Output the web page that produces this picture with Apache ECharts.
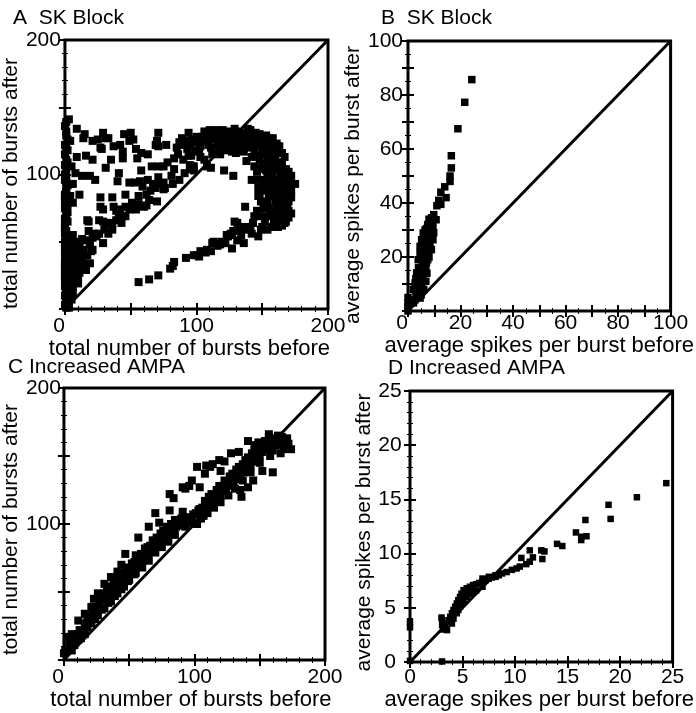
<!DOCTYPE html>
<html><head><meta charset="utf-8">
<script src="https://cdn.jsdelivr.net/npm/echarts@6/dist/echarts.min.js"></script>
<style>html,body{margin:0;padding:0;background:#fff}#c{width:696px;height:713px}</style>
</head><body><div id="c"></div>
<script>
const FONT = '"Liberation Sans", Arial, Helvetica, sans-serif';

// Panel titles and axis names
const titles = ['A  SK Block', 'B  SK Block', 'C Increased AMPA', 'D Increased AMPA'];
const xNames = ['total number of bursts before', 'average spikes per burst before', 'total number of bursts before', 'average spikes per burst before'];
const yNames = ['total number of bursts after', 'average spikes per burst after', 'total number of bursts after', 'average spikes per burst after'];

// Tick labels
const xLabelsA = [0, 100, 200];
const yLabelsA = [100, 200];
const xLabelsB = [0, 20, 40, 60, 80, 100];
const yLabelsB = [20, 40, 60, 80, 100];
const xLabelsC = [0, 100, 200];
const yLabelsC = [100, 200];
const xLabelsD = [0, 5, 10, 15, 20, 25];
const yLabelsD = [0, 5, 10, 15, 20, 25];

// Identity lines
const identityA = [[0, 0], [200, 200]];
const identityB = [[0, 0], [100, 100]];
const identityC = [[0, 0], [200, 200]];
const identityD = [[0, 0], [25, 25]];

// A: SK block, total number of bursts (before, after)
const pointsA = [
[3,141],[1,132],[9,134],[15,130],[14,127],[21,125],[29,131],[31,127],[33,127],[45,130],[50,131],[52,126],[71,131],[70,125],[89,127],[94,131],[97,126],[92,125],
[4,125],[25,126],[27,120],[28,119],[37,121],[42,122],[44,117],[49,125],[54,119],[58,116],[63,115],[69,122],[71,121],[77,122],[85,120],[87,124],[90,122],[95,122],[98,124],
[1,111],[9,113],[16,114],[21,111],[35,111],[44,112],[55,112],[66,106],[71,106],[75,106],[78,109],[83,112],[86,115],[90,111],[94,114],[98,106],[95,107],[83,104],
[1,104],[5,106],[8,101],[13,99],[19,99],[23,96],[31,105],[41,101],[40,95],[49,94],[53,94],[58,103],[57,95],[63,96],[67,93],[71,98],[75,94],[76,90],[81,99],[82,93],[87,96],[91,101],[95,104],[98,103],
[1,94],[6,93],[4,84],[11,85],[27,83],[36,83],[46,85],[56,84],[59,91],[62,85],[64,81],[65,88],[69,90],[70,93],[70,80],[75,89],
[1,76],[6,79],[18,65],[27,76],[29,74],[37,76],[39,73],[42,74],[44,69],[46,76],[49,74],[51,79],[52,76],[54,74],[56,78],[60,76],[62,77],
[1,69],[17,66],[26,66],[29,65],[31,64],[34,64],[36,63],[39,66],[41,68],[43,64],[46,69],
[1,54],[6,55],[18,58],[22,56],[26,56],[30,59],[33,56],[36,59],[21,53],[16,51],[24,54],[29,49],
[1,47],[5,44],[12,44],[19,48],[21,44],[15,40],[10,39],[17,40],[20,43],
[1,39],[3,33],[6,37],[10,32],[14,33],[16,29],[19,34],[11,27],[8,29],[4,24],
[1,19],[4,19],[8,22],[10,19],[1,12],[5,14],[1,7],[3,4],[1,1],
[0,60],[0,85],[0,100],[2,118],[0,122],[1,90],[0,80],[2,72],[0,50],[1,28],[2,44],[0,35],[1,15],[2,9],[0,25],
[0,3],[1,6],[0,10],[1,13],[0,17],[2,21],[0,23],[1,26],[0,30],[2,31],[0,33],[1,37],[0,41],[2,40],[0,45],[1,49],[2,52],[0,56],[1,58],[0,63],[2,65],[0,67],[1,72],[0,75],[2,78],[0,83],[1,87],[2,92],[0,96],[1,98],[0,107],[2,109],[0,115],[1,120],[2,126],[1,129],[0,136],[1,139],
[3,8],[4,11],[6,12],[3,15],[6,17],[7,20],[5,22],[8,25],[10,24],[3,27],[6,28],[9,31],[12,30],[4,30],[7,33],[12,35],[5,36],[9,38],[13,38],[3,40],[8,42],[14,44],[11,47],[4,48],[7,50],[13,52],[9,46],[3,20],[2,12],[5,7],[3,1],[2,3],
[56,20],[64,22],[71,25],[80,30],[82,32],[83,35],[92,38],[98,40],
[101,124],[102,117],[107,131],[108,126],[111,120],[114,130],[116,122],[118,131],[119,125],[122,129],[122,120],[124,131],[126,125],[127,117],[129,134],[129,129],[132,122],[133,126],[134,119],[136,130],[138,110],[139,131],[142,129],[143,124],[144,119],[146,114],[147,127],[149,125],[151,119],[152,115],[153,121],[154,111],[157,116],[159,117],[160,113],[163,106],[167,113],[164,104],[158,106],[97,106],[106,111],[108,106],[111,105],[121,103],[128,99],
[104,128],[110,133],[113,126],[117,127],[120,133],[125,128],[130,132],[135,126],[138,123],[141,133],[145,131],[148,122],[150,128],[152,124],[155,127],[158,122],[160,120],[162,117],[165,116],[163,121],[157,111],[155,106],[160,108],[165,109],[168,104],[166,100],[170,102],[172,99],
[100,128],[103,121],[105,125],[106,132],[109,122],[112,129],[115,133],[117,119],[120,126],[121,131],[123,123],[126,132],[128,121],[131,127],[133,131],[135,123],[137,127],[139,134],[140,120],[143,130],[146,122],[148,130],[150,116],[151,126],[153,129],[155,119],[156,124],[158,127],[161,123],[93,119],[96,114],[99,118],[103,113],[112,115],[118,115],[124,118],[130,116],[136,117],[142,113],[148,111],
[150,108],[153,103],[156,99],[158,95],[160,92],[161,86],[163,82],[164,79],[166,88],[165,95],[167,102],[168,90],[171,91],[170,80],[168,73],[166,70],[164,66],[161,76],[160,80],[157,86],[155,84],[153,88],[151,92],[149,96],[156,70],[158,73],[162,61],[165,62],[170,73],[172,88],[150,89],[146,102],[144,106],[148,104],
[142,96],[146,96],[147,90],[148,85],[149,80],[151,75],[147,84],[152,96],[154,99],[156,90],[157,94],[158,101],[159,84],[160,104],[162,96],[162,89],[163,91],[164,99],[165,84],[167,94],[168,80],[169,99],[170,96],[170,86],[169,76],[172,83],[175,93],[172,71],[170,68],[168,65],[167,64],[164,74],[163,69],[162,71],[159,68],[159,63],[157,61],[155,75],[154,79],[153,69],[152,65],[150,61],[149,59],[148,69],[146,73],[144,69],[143,64],[142,56],[141,61],[138,59],[137,76],[136,61],[134,55],[133,59],[132,61],[131,64],[129,65],[128,58],[127,55],[126,56],[124,54],[123,55],[122,49],[121,49],[119,50],[118,48],[116,47],[113,50],[112,49],[111,43],[108,44],[107,42],[103,43],[102,39],[101,40],[127,45],[131,51],[136,49],[147,54],[154,59],[159,65]
];

// B: SK block, average spikes per burst (before, after)
const pointsB = [
[24.3,85.7],[21.6,77.3],[19,67.5],[16.5,57.5],[16.5,53],[16,50],[16,48],[14,46],[12.5,44],[14.5,42],[11.7,41],[11,39],[12.5,39.5],[9.8,35.7],[10.7,33.8],[8.9,32.6],[9.5,31.4],
[8.5,30.1],[7.7,28.9],[8.9,27.6],[7,26.4],[8.3,25.2],[6.4,23.9],[7.7,22.7],[6,21.5],[7.3,20.2],[5.8,19],[7,17.8],[5.5,16.5],[6.4,15.3],[4.8,14.1],[5.8,12.8],[4.3,11.6],[5.2,10.4],[3.6,9.1],[4.6,7.9],[3.1,6.7],[4,5.4],[2.7,4.2],[4.6,4.8],[2.1,3],
[0,5],[0,1.7],[0,0],[0,3],
[4.6,23.9],[5.2,26.4],[5.8,28.9],[3.9,19],[4.6,21.5],[3.3,14.1],[2.7,10.4],[9.5,26.4],[8.9,22.7],[6.5,30],[7.5,32],[8,34],[6,25],[5,20],[4,16],[3,12],[2,8],[5.5,13],[6.5,18],[7.5,24],[4.5,9],[3.5,5],[5,6],[6,8],[6.8,11],[7.2,14],[8,20],[8.5,23],[9.8,29],
[7,30.5],[8,27],[6.5,21],[5.5,17.5],[4.5,13],[3.8,10],[3,7.5],[8.5,31],[9,34.5],[7.5,19],[6.8,16]
];

// C: increased AMPA, total number of bursts (before, after)
const pointsC = [
[0,5],[1,7],[4,11],[5,15],[7,13],[9,17],[10,19],[12,22],[14,19],[16,24],[17,27],[18,29],[21,32],[22,35],[23,37],[26,39],[27,43],[28,46],[31,49],[32,44],[33,51],[34,46],[36,54],[37,49],[38,56],[39,52],[41,59],[42,61],[43,55],[46,64],[47,60],[48,65],[49,68],[50,64],[52,71],[53,67],[54,72],[55,68],[57,75],[58,71],[59,78],[60,73],[62,82],[63,77],[64,83],[65,79],[66,84],[68,88],[69,82],[70,87],[71,90],[73,86],[74,93],[75,89],[76,95],[78,92],[79,98],[80,93],[81,97],[82,100],[84,95],[85,103],[86,98],[87,101],[89,99],[90,104],[91,100],[92,103],[95,105],[96,101],[97,104],[93,98],
[85,92],[80,87],[75,83],[70,79],[65,73],[60,68],[55,64],[50,59],[46,54],[41,49],[36,43],[31,38],[26,33],[21,27],[16,19],[11,15],[6,7],
[23,45],[26,49],[31,56],[36,61],[41,65],[21,39],[16,34],[11,29],[6,19],[3,17],
[81,122],[84,119],[91,127],[93,126],[98,132],[70,108],[81,110],[65,98],[57,90],[47,78],[44,70],[55,77],[59,73],[91,109],[73,101],
[98,103],[101,108],[102,100],[103,110],[106,112],[107,106],[108,117],[109,110],[111,120],[112,114],[113,122],[114,115],[116,117],[117,125],[118,120],[119,128],[120,121],[122,126],[123,132],[124,124],[125,128],[127,135],[128,130],[129,137],[130,131],[132,140],[133,133],[134,142],[135,136],[137,144],[138,138],[139,147],[140,141],[141,149],[143,143],[144,152],[145,146],[146,154],[148,148],[149,157],[150,150],[151,159],[152,153],[154,161],[155,155],[156,158],[157,164],[159,160],[160,154],[161,163],[162,158],[164,165],[165,161],[166,159],[167,164],[168,155],[170,161],[172,159],[174,155],[160,138],[152,139],[145,132],[136,120],[141,127],[135,125],
[102,142],[109,143],[112,142],[119,147],[120,139],[128,152],[134,153],[141,161],[146,158],[149,160],[154,159],[157,166],[96,128],[104,127],[108,137],[114,144],[123,146],
[8,11],[13,16],[18,24],[24,30],[29,37],[34,42],[39,47],[44,52],[49,58],[54,63],[59,69],[64,75],[69,80],[74,86],[79,91],[84,97],[89,102],[94,103],[99,107],[104,111],[109,115],[114,119],[119,124],[124,127],[129,133],[134,138],[139,143],[144,148],[149,152],[154,157],[159,158],[163,160],[168,160],[171,163],[166,152],[158,150],[150,145],[143,138],[137,132],[131,126],[126,121],[120,116],[115,112],[110,108],[105,104],[100,101]
];

// D: increased AMPA, average spikes per burst (before, after)
const pointsD = [
[24.4,16.5],[21.6,15.2],[18.9,14.5],[19.1,13.2],[16.7,13.1],[15.8,11.95],[16.3,11.55],[16.8,11.6],[16.3,11.25],[14,10.9],[14.5,10.7],[11.4,10.3],[12.5,10.3],[12.8,10.2],[12.6,9.5],[10.6,9.6],[11.7,9.65],[11.4,9.25],[11.07,9.03],[10.45,8.8],[10.15,8.63],[9.7,8.5],[9.2,8.3],[8.76,8.17],[8.45,8.0],[8.14,7.86],[7.8,7.8],[7.5,7.68],[7.2,7.55],[6.9,7.4],[6.6,7.3],[6.3,7.18],[6.0,7.1],[5.7,6.94],[5.4,6.8],[5.1,6.63],[4.9,6.3],[4.76,6.0],[4.6,5.7],[4.45,5.4],[4.3,5.1],[4.14,4.8],[3.99,4.5],[3.83,4.17],[3.68,3.86],[3.37,3.55],[3.06,3.4],[3.06,3.86],[3.37,3.1],[3.52,2.94],[3.15,3.0],[3.0,4.1],
[5.7,6.3],[6.3,6.6],[5.1,5.7],[4.6,4.8],[4.14,4.0],[6.9,6.94],[6.0,6.5],[5.4,6.0],[4.9,5.4],[4.45,4.5],[3.99,3.55],[5.5,6.5],[5.2,6.3],[4.76,5.1],[6.9,7.7],[7.5,7.86],[8.14,8.0],
[0,3.2],[0,3.7],[0,0.1],[3.05,0.05]
];

const grids = [
  {left: 60, top: 40, width: 268, height: 269},
  {left: 408, top: 41, width: 270, height: 270},
  {left: 55, top: 388, width: 270, height: 272},
  {left: 410, top: 391, width: 271, height: 271}
];

const panels = [
  {x: [0, 200, 50, xLabelsA], y: [0, 200, 50, yLabelsA], minor: 5, pts: pointsA, id: identityA, sym: 8,
   xl: {margin: 7, alignMin: 'right'}, yl: {margin: 4, pad: [14, 0, 0, 0], align: 'right'}, xn: {gap: 19, pad: [0, 14, 0, 0]}, yn: {gap: 33, pad: [0, 18, 0, 0]}},
  {x: [0, 100, 10, xLabelsB], y: [0, 100, 10, yLabelsB], minor: 2, pts: pointsB, id: identityB, sym: 7.5,
   xl: {margin: 2, alignMin: 'right'}, yl: {margin: 5, pad: [0, 0, 0, 0], align: 'right'}, xn: {gap: 15, pad: [0, 0, 0, 0]}, yn: {gap: 31, pad: [0, 18, 0, 0]}},
  {x: [0, 200, 50, xLabelsC], y: [0, 200, 50, yLabelsC], minor: 5, pts: pointsC, id: identityC, sym: 8,
   xl: {margin: 7, alignMin: 'right'}, yl: {margin: 3, pad: [6, 0, 0, 0], align: 'right'}, xn: {gap: 23, pad: [0, 7, 0, 0]}, yn: {gap: 29, pad: [0, 11, 0, 0]}},
  {x: [0, 25, 5, xLabelsD], y: [0, 25, 5, yLabelsD], minor: 5, pts: pointsD, id: identityD, sym: 6.5,
   xl: {margin: 5, alignMin: null}, yl: {margin: 20, pad: [0, 0, 0, 0], align: 'center'}, xn: {gap: 21, pad: [0, 4, 0, 0]}, yn: {gap: 30, pad: [0, 12, 0, 0]}}
];

const titlePos = [{left: 13, top: 8}, {left: 381, top: 8}, {left: 8, top: 357}, {left: 388, top: 358}];

const tick = {show: true, inside: true, length: 6, lineStyle: {color: '#000', width: 2}};
const txt = {color: '#000', fontSize: 21, fontFamily: FONT};
const nameTxt = {color: '#000', fontSize: 22, fontFamily: FONT};

const xAxis = [], yAxis = [], series = [], title = [];
panels.forEach((p, i) => {
  const minor = {show: true, splitNumber: p.minor, length: 3, lineStyle: {color: '#000', width: 1}};
  const [xmin, xmax, xint, xlab] = p.x;
  const [ymin, ymax, yint, ylab] = p.y;
  xAxis.push({
    type: 'value', gridIndex: i, position: 'bottom', min: xmin, max: xmax, interval: xint,
    axisLine: {show: false}, axisTick: tick, minorTick: minor, splitLine: {show: false},
    axisLabel: Object.assign({margin: p.xl.margin, formatter: v => xlab.includes(v) ? String(v) : ''}, txt,
      p.xl.alignMin ? {alignMinLabel: p.xl.alignMin} : {}),
    name: xNames[i], nameLocation: 'middle', nameGap: p.xn.gap,
    nameTextStyle: Object.assign({padding: p.xn.pad}, nameTxt)
  });
  xAxis.push({
    type: 'value', gridIndex: i, position: 'top', min: xmin, max: xmax, interval: xint,
    axisLine: {show: false}, axisTick: tick, minorTick: minor, splitLine: {show: false}, axisLabel: {show: false}
  });
  yAxis.push({
    type: 'value', gridIndex: i, position: 'left', min: ymin, max: ymax, interval: yint,
    axisLine: {show: false}, axisTick: tick, minorTick: minor, splitLine: {show: false},
    axisLabel: Object.assign({margin: p.yl.margin, align: p.yl.align, padding: p.yl.pad,
      formatter: v => ylab.includes(v) ? String(v) : ''}, txt),
    name: yNames[i], nameLocation: 'middle', nameGap: p.yn.gap,
    nameTextStyle: Object.assign({padding: p.yn.pad}, txt)
  });
  yAxis.push({
    type: 'value', gridIndex: i, position: 'right', min: ymin, max: ymax, interval: yint,
    axisLine: {show: false}, axisTick: tick, minorTick: minor, splitLine: {show: false}, axisLabel: {show: false}
  });
  series.push({
    type: 'line', xAxisIndex: 2 * i, yAxisIndex: 2 * i, data: p.id, symbol: 'none',
    lineStyle: {color: '#000', width: 3}, silent: true, z: 2
  });
  series.push({
    type: 'scatter', xAxisIndex: 2 * i, yAxisIndex: 2 * i, data: p.pts, symbol: 'rect', symbolSize: p.sym,
    itemStyle: {color: '#000', opacity: 1}, z: 3
  });
  title.push(Object.assign({text: titles[i], padding: 0, textStyle: Object.assign({fontWeight: 'normal'}, txt)}, titlePos[i]));
});

const chart = echarts.init(document.getElementById('c'), null, {renderer: 'canvas'});
chart.setOption({
  animation: false,
  backgroundColor: '#fff',
  title: title,
  grid: grids.map(g => Object.assign({show: true, borderColor: '#000', borderWidth: 3, backgroundColor: 'transparent', containLabel: false}, g)),
  xAxis: xAxis,
  yAxis: yAxis,
  series: series
});
</script>
</body></html>
